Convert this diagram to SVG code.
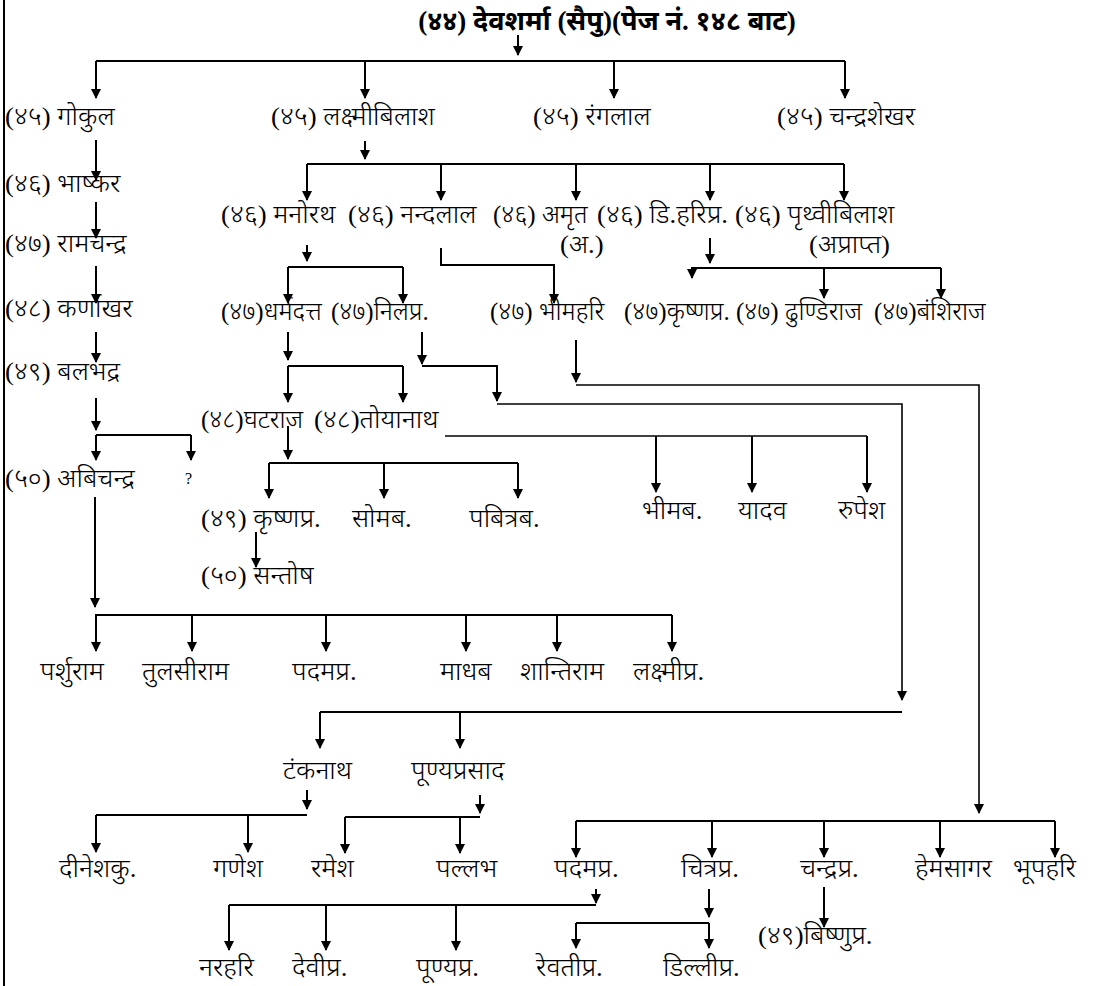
<svg xmlns="http://www.w3.org/2000/svg" width="1094" height="986" viewBox="0 0 1094 986">
<style>
text{font-family:"Liberation Serif","Noto Sans",serif;font-size:25px;font-weight:300;fill:#000;transform-box:fill-box;transform-origin:0 50%;transform:scaleX(1.07)}
text.e{transform-origin:100% 50%}
text.t{font-weight:bold;font-size:27px;transform:none}
text.ns{transform:none}
.q{font-size:16px}
.c path{fill:none;stroke:#000;stroke-width:2}
.c path.a{marker-end:url(#ah)}
.c path.th{stroke-width:1.6}
</style>
<defs>
<marker id="ah" markerUnits="userSpaceOnUse" markerWidth="10" markerHeight="10" viewBox="0 -5 10 10" refX="9" refY="0" orient="auto"><path d="M0,-5 L10,0 L0,5 z" fill="#000"/></marker>
</defs>
<rect width="1094" height="986" fill="#fff"/>
<g class="c" id="connectors">
<path d="M4,0 V986"/>
<path class="a" d="M518,35 V55"/>
<path d="M96,61 H845"/>
<path class="a" d="M96,61 V98"/>
<path class="a" d="M365,61 V98"/>
<path class="a" d="M614,61 V98"/>
<path class="a" d="M845,61 V98"/>
<path class="a" d="M96,140 V180"/>
<path class="a" d="M96,202 V238"/>
<path class="a" d="M96,266 V303"/>
<path class="a" d="M96,332 V362"/>
<path class="a" d="M96,398 V430"/>
<path d="M96,435 H191"/>
<path class="a" d="M96,435 V460"/>
<path class="a" d="M191,435 V460"/>
<path class="a" d="M95,497 V607"/>
<path d="M95,615 H672"/>
<path class="a" d="M96,615 V651"/>
<path class="a" d="M192,615 V651"/>
<path class="a" d="M326,615 V651"/>
<path class="a" d="M466,615 V651"/>
<path class="a" d="M557,615 V651"/>
<path class="a" d="M672,615 V651"/>
<path class="a" d="M365,141 V159"/>
<path d="M307,164 H844"/>
<path class="a" d="M307,164 V200"/>
<path class="a" d="M441,164 V200"/>
<path class="a" d="M576,164 V200"/>
<path class="a" d="M710,164 V200"/>
<path class="a" d="M844,164 V200"/>
<path class="a" d="M307,245 V261"/>
<path d="M288,267 H403"/>
<path class="a" d="M288,267 V303"/>
<path class="a" d="M403,267 V303"/>
<path class="a" d="M441,248 V265 H554 V303"/>
<path class="a" d="M710,238 V263"/>
<path class="a" d="M941,268 H692 V278"/>
<path class="a" d="M824,268 V298"/>
<path class="a" d="M941,268 V298"/>
<path class="a" d="M288,332 V360"/>
<path d="M288,366 H403"/>
<path class="a" d="M288,366 V402"/>
<path class="a" d="M403,366 V402"/>
<path class="a" d="M422,332 V364"/>
<path class="a" d="M422,366 H497 V401"/>
<path class="a th" d="M497,404 H902 V700"/>
<path class="a" d="M576,340 V382"/>
<path class="a th" d="M576,385 H979 V813"/>
<path class="a" d="M288,426 V459"/>
<path d="M269,463 H518"/>
<path class="a" d="M269,463 V498"/>
<path class="a" d="M384,463 V498"/>
<path class="a" d="M518,463 V498"/>
<path class="th" d="M445,436 H867"/>
<path class="a" d="M656,436 V492"/>
<path class="a" d="M752,436 V492"/>
<path class="a" d="M867,436 V492"/>
<path class="a" d="M256,532 V567"/>
<path d="M902,712 H320"/>
<path class="a" d="M320,712 V748"/>
<path class="a" d="M460,712 V748"/>
<path class="a" d="M307,790 V809"/>
<path d="M307,815 H96"/>
<path class="a" d="M96,815 V852"/>
<path class="a" d="M248,815 V852"/>
<path class="a" d="M480,795 V813"/>
<path d="M480,817 H345"/>
<path class="a" d="M345,817 V853"/>
<path class="a" d="M460,817 V853"/>
<path d="M576,821 H1055"/>
<path class="a" d="M576,821 V857"/>
<path class="a" d="M712,821 V857"/>
<path class="a" d="M824,821 V857"/>
<path class="a" d="M940,821 V857"/>
<path class="a" d="M1055,821 V857"/>
<path class="a" d="M596,889 V903"/>
<path d="M596,905 H229"/>
<path class="a" d="M229,905 V950"/>
<path class="a" d="M326,905 V950"/>
<path class="a" d="M456,905 V950"/>
<path class="a" d="M709,889 V917"/>
<path d="M709,923 H576"/>
<path class="a" d="M576,923 V948"/>
<path class="a" d="M709,923 V948"/>
<path class="a" d="M824,887 V927"/>
</g>
<g id="n44"><text class="t" x="607" y="30" text-anchor="middle">(४४) देवशर्मा (सैपु)(पेज नं. १४८ बाट)</text></g>
<g id="n45a"><text x="5" y="125">(४५) गोकुल</text></g>
<g id="n45b"><text x="271" y="125">(४५) लक्ष्मीबिलाश</text></g>
<g id="n45c"><text x="533" y="125">(४५) रंगलाल</text></g>
<g id="n45d"><text x="777" y="125">(४५) चन्द्रशेखर</text></g>
<g id="n46a"><text x="5" y="192">(४६) भाष्कर</text></g>
<g id="n47a"><text x="5" y="252">(४७) रामचन्द्र</text></g>
<g id="n48a"><text x="5" y="317">(४८) कर्णाखर</text></g>
<g id="n49a"><text x="5" y="380">(४९) बलभद्र</text></g>
<g id="n50a"><text x="5" y="487">(५०) अबिचन्द्र</text></g>
<g id="n50b"><text class="q ns" x="185" y="484">?</text></g>
<g id="n46b"><text x="221" y="223">(४६) मनोरथ</text></g>
<g id="n46c"><text x="348" y="223">(४६) नन्दलाल</text></g>
<g id="n46d"><text class="ns" x="493" y="223">(४६) अमृत</text><text x="560" y="253">(अ.)</text></g>
<g id="n46e"><text x="597" y="223">(४६) डि.हरिप्र.</text></g>
<g id="n46f"><text x="735" y="223">(४६) पृथ्वीबिलाश</text><text class="e" x="890" y="253" text-anchor="end">(अप्राप्त)</text></g>
<g id="n47b"><text class="ns" x="221" y="320">(४७)धर्मदत्त</text></g>
<g id="n47c"><text class="ns" x="331" y="320">(४७)निलप्र.</text></g>
<g id="n47d"><text class="ns" x="490" y="320">(४७) भीमहरि</text></g>
<g id="n47e"><text class="ns" x="624" y="320">(४७)कृष्णप्र.</text></g>
<g id="n47f"><text class="ns" x="736" y="320">(४७) ढुण्डिराज</text></g>
<g id="n47g"><text class="ns" x="874" y="320">(४७)बंशिराज</text></g>
<g id="n48b"><text class="ns" x="201" y="428">(४८)घटराज</text></g>
<g id="n48c"><text x="314" y="428">(४८)तोयानाथ</text></g>
<g id="n49b"><text x="201" y="527">(४९) कृष्णप्र.</text></g>
<g id="n49c"><text x="352" y="527">सोमब.</text></g>
<g id="n49d"><text x="469" y="527">पबित्रब.</text></g>
<g id="n49e"><text x="642" y="519">भीमब.</text></g>
<g id="n49f"><text x="738" y="519">यादव</text></g>
<g id="n49g"><text x="838" y="519">रुपेश</text></g>
<g id="n50c"><text x="201" y="584">(५०) सन्तोष</text></g>
<g id="p1"><text x="40" y="680">पर्शुराम</text></g>
<g id="p2"><text x="142" y="680">तुलसीराम</text></g>
<g id="p3"><text x="292" y="680">पदमप्र.</text></g>
<g id="p4"><text x="440" y="680">माधब</text></g>
<g id="p5"><text x="520" y="680">शान्तिराम</text></g>
<g id="p6"><text x="633" y="680">लक्ष्मीप्र.</text></g>
<g id="q1"><text x="283" y="779">टंकनाथ</text></g>
<g id="q2"><text x="411" y="779">पूण्यप्रसाद</text></g>
<g id="r1"><text x="59" y="877">दीनेशकु.</text></g>
<g id="r2"><text x="213" y="877">गणेश</text></g>
<g id="r3"><text x="311" y="877">रमेश</text></g>
<g id="r4"><text x="436" y="877">पल्लभ</text></g>
<g id="s1"><text x="554" y="877">पदमप्र.</text></g>
<g id="s2"><text x="681" y="877">चित्रप्र.</text></g>
<g id="s3"><text x="800" y="877">चन्द्रप्र.</text></g>
<g id="s4"><text x="915" y="877">हेमसागर</text></g>
<g id="s5"><text x="1013" y="877">भूपहरि</text></g>
<g id="s6"><text x="758" y="944">(४९)बिष्णुप्र.</text></g>
<g id="u1"><text x="199" y="976">नरहरि</text></g>
<g id="u2"><text x="292" y="976">देवीप्र.</text></g>
<g id="u3"><text x="416" y="976">पूण्यप्र.</text></g>
<g id="u4"><text x="536" y="976">रेवतीप्र.</text></g>
<g id="u5"><text x="663" y="976">डिल्लीप्र.</text></g>
</svg>
